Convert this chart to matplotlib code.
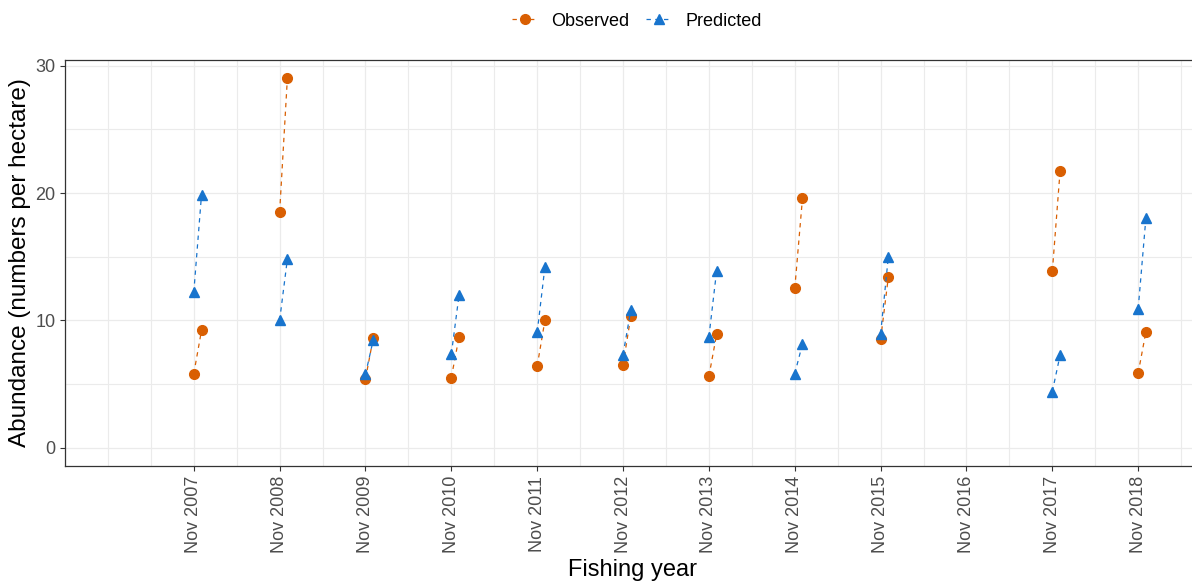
import numpy as np
import matplotlib.pyplot as plt
from matplotlib.lines import Line2D

plt.rcParams['font.family'] = ['Liberation Sans', 'DejaVu Sans']

# fishing years (survey in Nov, second survey about a month later)
years = [2007, 2008, 2009, 2010, 2011, 2012, 2013, 2014, 2015, 2016, 2017, 2018]
tick_labels = ["Nov %d" % y for y in years]
second_offset = 0.09  # fraction of a year between the two surveys

nan = np.nan
obs_start = [5.8, 18.5, 5.4, 5.5, 6.4, 6.5, 5.6, 12.5, 8.5, nan, 13.85, 5.85]
obs_end = [9.2, 29.0, 8.6, 8.7, 10.0, 10.3, 8.9, 19.6, 13.4, nan, 21.7, 9.1]
pred_start = [12.2, 10.0, 5.75, 7.35, 9.05, 7.3, 8.7, 5.8, 8.95, nan, 4.4, 10.9]
pred_end = [19.85, 14.8, 8.45, 12.0, 14.2, 10.8, 13.9, 8.15, 15.0, nan, 7.25, 18.05]

obs_col = '#D95F02'
pred_col = '#1874CD'

fig = plt.figure(figsize=(11.92, 5.81), dpi=100)
ax = fig.add_axes([65 / 1192, 115 / 581, 1135 / 1192, 406 / 581])

for i, yr in enumerate(years):
    xs = [yr, yr + second_offset]
    ax.plot(xs, [obs_start[i], obs_end[i]], color=obs_col, ls='--', dashes=(3.5, 3.5),
            lw=0.9, marker='o', ms=7, mec=obs_col, zorder=3)
    ax.plot(xs, [pred_start[i], pred_end[i]], color=pred_col, ls='--', dashes=(3.5, 3.5),
            lw=0.9, marker='^', ms=7.5, mec=pred_col, zorder=3)

ax.set_xlim(2005.575, 2018.72)
ax.set_ylim(-1.45, 30.45)

ax.set_xticks(years)
ax.set_xticklabels(tick_labels, rotation=90, fontsize=13, color='#4D4D4D')
ax.set_xticks([2006] + [y + 0.5 for y in range(2005, 2019)], minor=True)
ax.set_yticks([0, 10, 20, 30])
ax.set_yticks([5, 15, 25], minor=True)
ax.tick_params(axis='y', labelsize=13, labelcolor='#4D4D4D')
ax.tick_params(which='major', length=3.5, width=0.8, color='#333333')
ax.tick_params(which='minor', length=0)

ax.grid(which='major', color='#EBEBEB', lw=0.9)
ax.grid(which='minor', color='#EBEBEB', lw=0.8)
ax.set_axisbelow(True)
for s in ax.spines.values():
    s.set_color('#333333')
    s.set_linewidth(0.9)

ax.set_xlabel('Fishing year', fontsize=17, labelpad=4)
ax.set_ylabel('Abundance (numbers per hectare)', fontsize=17.5, labelpad=3)

handles = [
    Line2D([], [], color=obs_col, ls='--', dashes=(3.5, 3.5), lw=0.9, marker='o', ms=7),
    Line2D([], [], color=pred_col, ls='--', dashes=(3.5, 3.5), lw=0.9, marker='^', ms=7.5),
]
fig.legend(handles, ['Observed', 'Predicted'], loc='center', ncol=2,
           bbox_to_anchor=(637 / 1192, 1 - 21 / 581), frameon=False, fontsize=13,
           handlelength=1.4, handletextpad=0.8, columnspacing=0.9)

fig.savefig('out.png', dpi=100)
